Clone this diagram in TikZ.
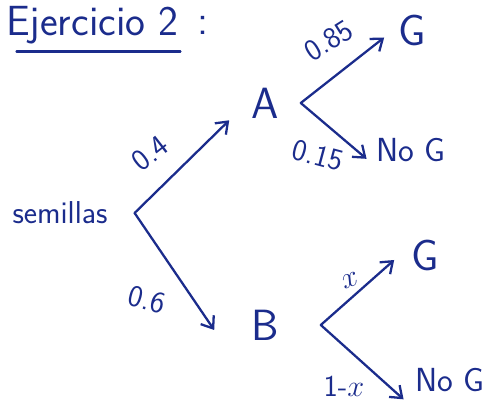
\documentclass[tikz,border=0pt]{standalone}
\usepackage{tikz}
\usetikzlibrary{arrows.meta,positioning,calc}
\definecolor{ink}{HTML}{1B2C8C}

\begin{document}
\begin{tikzpicture}[
    ink, font=\sffamily,
    event/.style={font=\sffamily\Huge, inner sep=1pt},
    notevent/.style={font=\sffamily\fontsize{19}{22}\selectfont, inner sep=1pt},
    rootlabel/.style={font=\sffamily\fontsize{18}{21}\selectfont, inner sep=1pt},
    problabel/.style={font=\sffamily\LARGE, inner sep=1pt},
    branch/.style={-{Straight Barb[length=6pt,width=9pt]}, line width=1.3pt, line cap=round, line join=round},
    underline/.style={line width=1.3pt, line cap=round}
]
\useasboundingbox (0,0) rectangle (9.76,8.06);

% Title
\node[font=\sffamily\fontsize{24}{28}\selectfont, anchor=west, inner sep=1pt] (title) at (0.08,7.55) {Ejercicio 2};
\node[font=\sffamily\fontsize{24}{28}\selectfont, inner sep=1pt, right=3mm of title] (colon) {:};
\draw[underline] ([shift={(0.25,-0.1)}]title.south west) -- ([yshift=-0.1cm]title.south east);

% Root and first level
\node[rootlabel] (sem) at (1.2,3.8) {semillas};
\node[event] (A) at (5.3,6.0) {A};
\node[event] (B) at (5.3,1.56) {B};

% Second level
\node[event] (GA) at (8.25,7.46) {G};
\node[notevent, anchor=east] (NGA) at (8.95,5.06) {No G};
\node[event] (GB) at (8.5,2.96) {G};
\node[notevent, anchor=east] (NGB) at (9.74,0.45) {No G};

% Fork points
\coordinate (r) at ([xshift=5mm]sem.east);
\coordinate (fA) at ([xshift=4mm]A.east);
\coordinate (fB) at ([xshift=8mm]B.east);

% Branches
\draw[branch] (r) -- ([shift={(-0.4,0)}]A.south west);
\draw[branch] (r) -- ([shift={(-0.7,-0.1)}]B.west);
\draw[branch] (fA) -- ([shift={(-0.25,-0.15)}]GA.west);
\draw[branch] (fA) -- ([shift={(-0.15,0.1)}]NGA.south west);
\draw[branch] (fB) -- ([shift={(-0.3,-0.1)}]GB.west);
\draw[branch] (fB) -- ([shift={(-0.2,-0.1)}]NGB.south west);

% Probabilities
\node[problabel, rotate=38] (p04) at (3.0,5.0) {0.4};
\node[problabel, rotate=-15] (p06) at (2.94,2.06) {0.6};
\node[problabel, rotate=32] (p085) at (6.58,7.25) {0.85};
\node[problabel, rotate=-15] (p015) at (6.36,4.95) {0.15};
\node[problabel, rotate=20] (px) at (7.0,2.45) {$x$};
\node[problabel] (p1x) at (6.88,0.34) {1-$x$};

\end{tikzpicture}
\end{document}
